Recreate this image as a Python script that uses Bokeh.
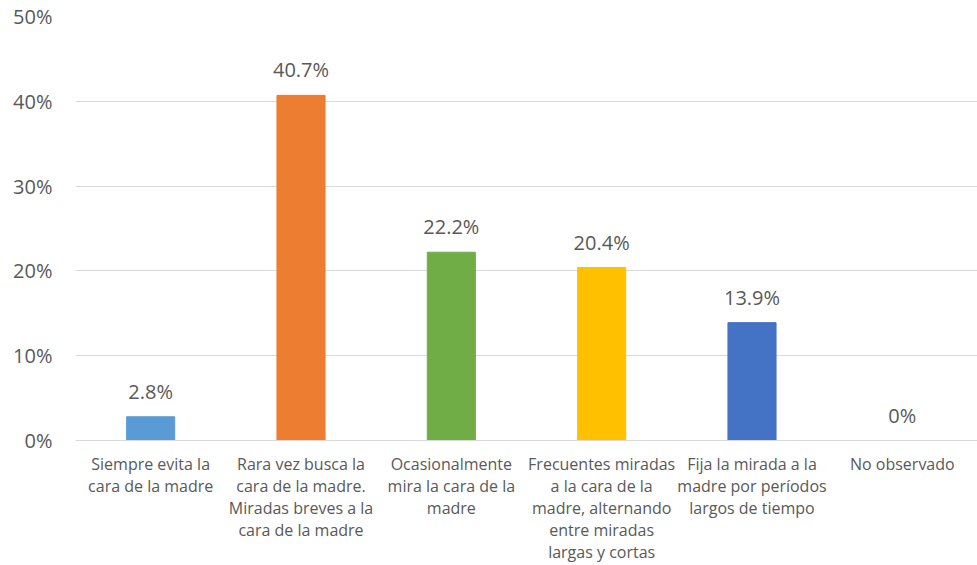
from bokeh.plotting import figure
from bokeh.models import ColumnDataSource, FactorRange, FixedTicker, PrintfTickFormatter
from bokeh.embed import file_html
from bokeh.resources import INLINE
from bokeh.core.properties import value

categories = [
    "Siempre evita la\ncara de la madre",
    "Rara vez busca la\ncara de la madre.\nMiradas breves a la\ncara de la madre",
    "Ocasionalmente\nmira la cara de la\nmadre",
    "Frecuentes miradas\na la cara de la\nmadre, alternando\nentre miradas\nlargas y cortas",
    "Fija la mirada a la\nmadre por períodos\nlargos de tiempo",
    "No observado",
]
values = [2.8, 40.7, 22.2, 20.4, 13.9, 0.0]
value_labels = ["2.8%", "40.7%", "22.2%", "20.4%", "13.9%", "0%"]
colors = ["#5B9BD5", "#ED7D31", "#70AD47", "#FFC000", "#4472C4", "#A5A5A5"]
y_ticks = [0, 10, 20, 30, 40, 50]

FONT = "Open Sans"
GRAY = "#595959"

src = ColumnDataSource(dict(cat=categories, val=values, lab=value_labels, color=colors))

p = figure(width=977, height=565, x_range=FactorRange(*categories, range_padding=0),
           y_range=(0, 50), output_backend="svg", toolbar_location=None,
           min_border_left=75, min_border_right=0, min_border_top=16, min_border_bottom=125)
p.outline_line_color = None
p.background_fill_color = "white"
p.border_fill_color = "white"

p.vbar(x="cat", top="val", width=0.32, color="color", source=src)
p.text(x="cat", y="val", text="lab", source=src, text_align="center", text_baseline="bottom",
       y_offset=-12, text_font=value(FONT), text_font_size="20px", text_color=GRAY)

p.xgrid.grid_line_color = None
p.ygrid.grid_line_color = "#D9D9D9"
p.ygrid.ticker = FixedTicker(ticks=y_ticks)

p.yaxis.ticker = FixedTicker(ticks=y_ticks)
p.yaxis.formatter = PrintfTickFormatter(format="%d%%")
p.yaxis.axis_line_color = None
p.yaxis.major_tick_line_color = None
p.yaxis.minor_tick_line_color = None
p.yaxis.major_label_text_font = FONT
p.yaxis.major_label_text_font_size = "20px"
p.yaxis.major_label_text_color = GRAY
p.yaxis.major_label_standoff = 17

p.xaxis.axis_line_color = "#D9D9D9"
p.xaxis.major_tick_line_color = None
p.xaxis.minor_tick_line_color = None
p.xaxis.major_label_text_font = FONT
p.xaxis.major_label_text_font_size = "16px"
p.xaxis.major_label_text_line_height = 1.0
p.xaxis.major_label_text_color = GRAY
p.xaxis.major_label_standoff = 6

open("out.html", "w").write(file_html(p, INLINE))
